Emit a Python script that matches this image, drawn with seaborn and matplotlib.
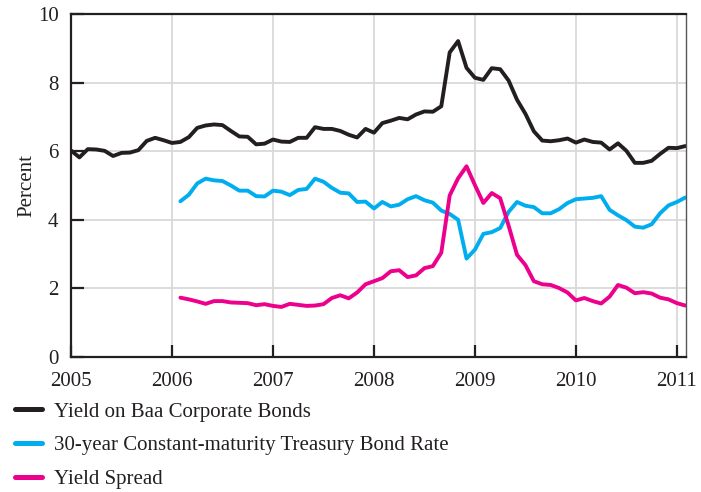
import numpy as np
import pandas as pd
import matplotlib
matplotlib.use("Agg")
import matplotlib.pyplot as plt
from matplotlib.lines import Line2D
import seaborn as sns

# Monthly data, Jan 2005 .. Feb 2011
baa = [6.02, 5.82, 6.06, 6.05, 6.01, 5.86, 5.95, 5.96, 6.03, 6.30, 6.39, 6.32,
       6.24, 6.27, 6.41, 6.68, 6.75, 6.78, 6.76, 6.59, 6.43, 6.42, 6.20, 6.22,
       6.34, 6.28, 6.27, 6.39, 6.39, 6.70, 6.65, 6.65, 6.59, 6.48, 6.40, 6.65,
       6.54, 6.82, 6.89, 6.97, 6.93, 7.07, 7.16, 7.15, 7.31, 8.88, 9.21, 8.43,
       8.14, 8.08, 8.42, 8.39, 8.06, 7.50, 7.09, 6.58, 6.31, 6.29, 6.32, 6.37,
       6.25, 6.34, 6.27, 6.25, 6.05, 6.23, 6.01, 5.66, 5.66, 5.72, 5.92, 6.10,
       6.09, 6.15]

# Feb 2006 .. Feb 2011
treasury = [4.54, 4.73, 5.06, 5.20, 5.15, 5.13, 5.00, 4.85, 4.85, 4.69, 4.68,
            4.85, 4.82, 4.72, 4.87, 4.90, 5.20, 5.11, 4.93, 4.79, 4.77, 4.52, 4.53,
            4.33, 4.52, 4.39, 4.44, 4.60, 4.69, 4.57, 4.50, 4.27, 4.17, 4.00, 2.87,
            3.13, 3.59, 3.64, 3.76, 4.23, 4.52, 4.41, 4.37, 4.19, 4.19, 4.31, 4.49,
            4.60, 4.62, 4.64, 4.69, 4.29, 4.13, 3.99, 3.80, 3.77, 3.87, 4.19, 4.42,
            4.52, 4.65]

spread = [1.73, 1.68, 1.62, 1.55, 1.63, 1.63, 1.59, 1.58, 1.57, 1.51, 1.54,
          1.49, 1.46, 1.55, 1.52, 1.49, 1.50, 1.54, 1.72, 1.80, 1.71, 1.88, 2.12,
          2.21, 2.30, 2.50, 2.53, 2.33, 2.38, 2.59, 2.65, 3.04, 4.71, 5.21, 5.56,
          5.01, 4.49, 4.78, 4.63, 3.83, 2.98, 2.68, 2.21, 2.12, 2.10, 2.01, 1.88,
          1.65, 1.72, 1.63, 1.56, 1.76, 2.10, 2.02, 1.86, 1.89, 1.85, 1.73, 1.68,
          1.57, 1.50]

labels = ["Yield on Baa Corporate Bonds",
          "30-year Constant-maturity Treasury Bond Rate",
          "Yield Spread"]
colors = ["#231f20", "#00aeef", "#ec008c"]
year_ticks = [2005, 2006, 2007, 2008, 2009, 2010, 2011]
y_ticks = [0, 2, 4, 6, 8, 10]

t_all = 2005 + np.arange(len(baa)) / 12.0
offset = len(baa) - len(treasury)
t_sub = t_all[offset:]

df = pd.concat([
    pd.DataFrame({"t": t_all, "v": baa, "s": labels[0]}),
    pd.DataFrame({"t": t_sub, "v": treasury, "s": labels[1]}),
    pd.DataFrame({"t": t_sub, "v": spread, "s": labels[2]}),
])

sns.set_theme(style="white")
plt.rcParams["font.family"] = ["Liberation Serif", "DejaVu Serif"]

fig = plt.figure(figsize=(7.01, 4.92), dpi=100)
ax = fig.add_axes([71 / 701, 1 - 357 / 492, (686 - 71) / 701, (357 - 14) / 492])

sns.lineplot(data=df, x="t", y="v", hue="s", hue_order=labels,
             palette=colors, linewidth=2.8, ax=ax, legend=False,
             estimator=None, sort=False)

ax.set_xlim(2005, 2011.09)
ax.set_ylim(0, 10)
ax.set_xticks(year_ticks)
ax.set_xticklabels([str(y) for y in year_ticks])
ax.set_yticks(y_ticks)
ax.set_yticklabels([str(y) for y in y_ticks])
ax.grid(True, color="#d9d9d9", linewidth=1.3)
ax.set_axisbelow(True)
for sp in ax.spines.values():
    sp.set_visible(True)
    sp.set_color("#231f20")
    sp.set_linewidth(1.6)
ax.spines["right"].set_color("#555555")
ax.spines["right"].set_linewidth(1.0)
ax.tick_params(axis="both", direction="in", length=9, width=1.6,
               color="#231f20", labelsize=15, labelcolor="#231f20")
ax.tick_params(axis="x", pad=11, bottom=True, top=False)
ax.tick_params(axis="y", pad=9, left=True, right=False)
ax.set_xlabel("")
ax.set_ylabel("Percent", fontsize=15, color="#231f20", labelpad=1)

handles = [Line2D([0], [0], color=c, linewidth=3.6) for c in colors]
fig.legend(handles, labels, loc="upper left",
           bbox_to_anchor=(15 / 701, 1 - 402 / 492),
           frameon=False, fontsize=15, handlelength=1.3, handletextpad=0.55,
           labelspacing=0.68, borderaxespad=0, borderpad=0, labelcolor="#231f20")

fig.savefig("out.png", dpi=100)
